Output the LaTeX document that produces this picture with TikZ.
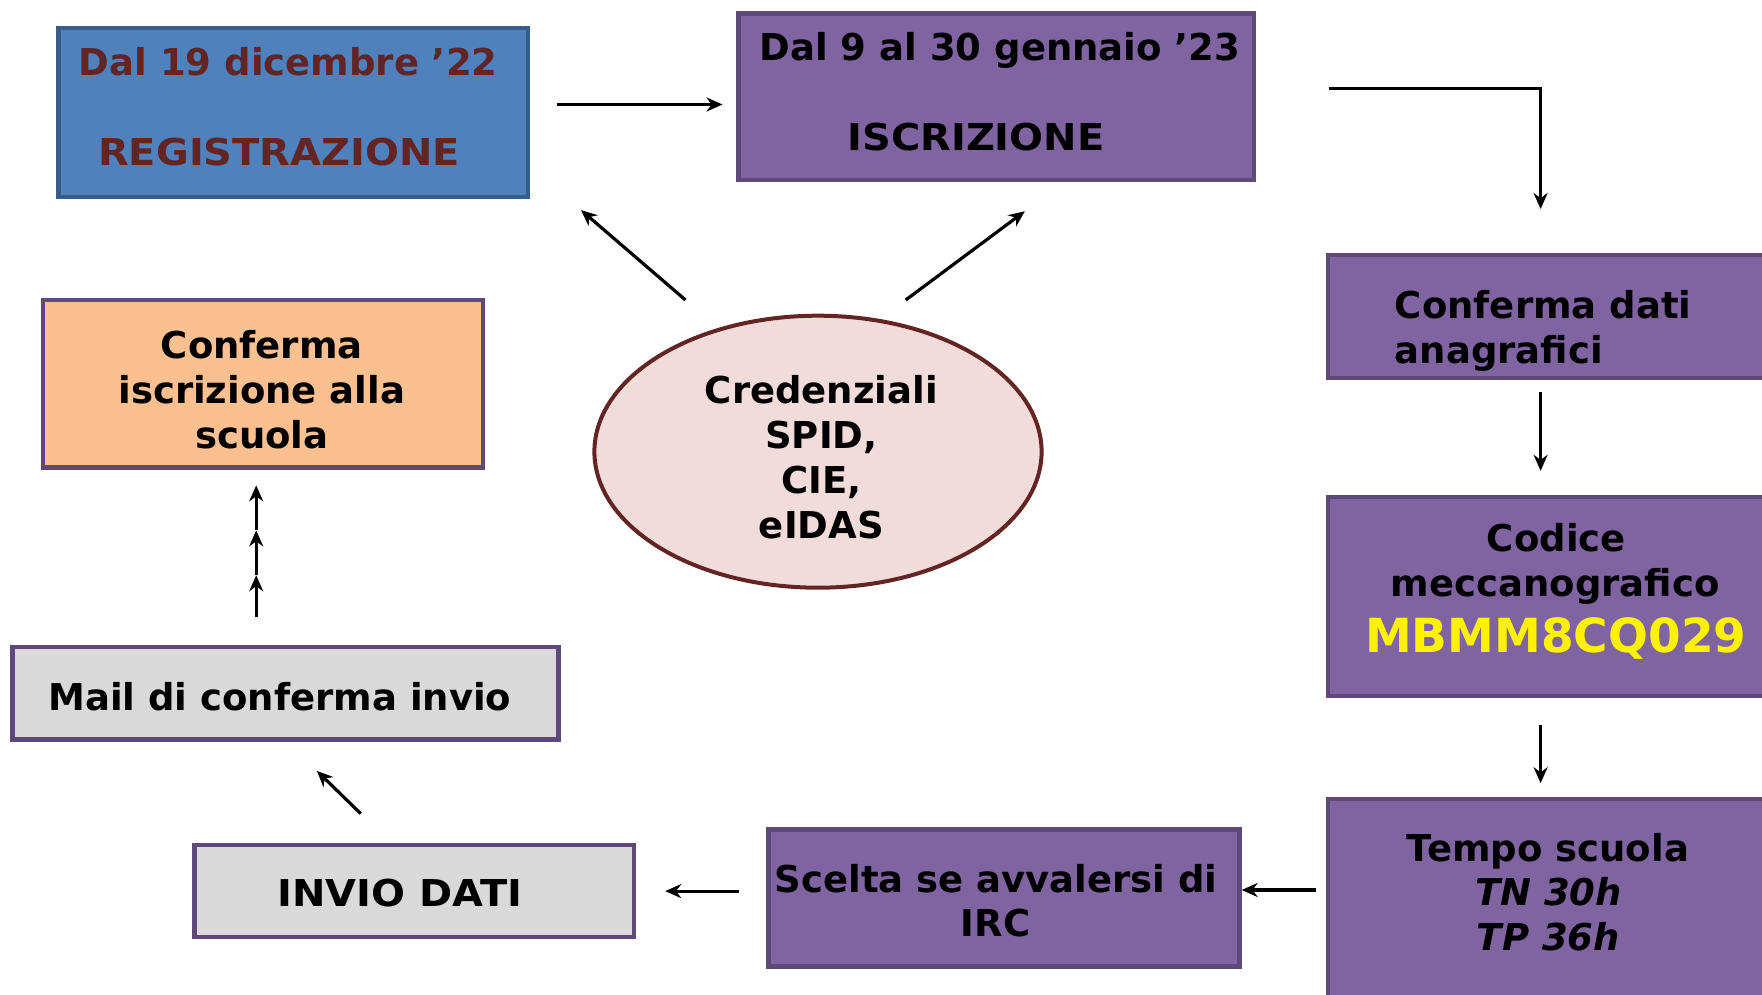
\documentclass[tikz,border=0pt]{standalone}
\usepackage{fontspec}
\setmainfont{DejaVu Sans}
\newfontfamily\widefont[FakeStretch=1.08]{DejaVu Sans}
\usetikzlibrary{arrows.meta,shapes.geometric}
\definecolor{regfill}{HTML}{4F81BD}
\definecolor{regborder}{HTML}{385D8A}
\definecolor{regtext}{HTML}{632523}
\definecolor{purfill}{HTML}{8064A2}
\definecolor{purborder}{HTML}{5F497A}
\definecolor{grayfill}{HTML}{D9D9D9}
\definecolor{orfill}{HTML}{FAC090}
\definecolor{ellfill}{HTML}{F2DCDB}
\definecolor{ellborder}{HTML}{632523}
\tikzset{
  box/.style={draw, rectangle, line width=2.2pt, inner sep=0pt},
  regbox/.style={box, fill=regfill, draw=regborder},
  purbox/.style={box, fill=purfill, draw=purborder},
  graybox/.style={box, fill=grayfill, draw=purborder},
  orbox/.style={box, fill=orfill, draw=purborder},
  txt/.style={anchor=base, inner sep=0pt, font=\fontsize{18.5pt}{22.5pt}\selectfont\bfseries},
  captxt/.style={anchor=base, inner sep=0pt, font=\widefont\fontsize{18.5pt}{22.5pt}\selectfont\bfseries},
  ittxt/.style={txt, font=\fontsize{18.5pt}{22.5pt}\selectfont\bfseries\itshape},
  arr/.style={line width=1.6pt, -{Stealth[length=8pt,width=7pt]}}
}
\begin{document}
\begin{tikzpicture}[x=0.5pt,y=-0.5pt]
\clip (0,0) rectangle (1762,995);
\fill[white] (0,0) rectangle (1762,995);
% boxes
\node[regbox, minimum width=234.9pt, minimum height=84.3pt] (reg) at (293.3,112.4) {};
\node[purbox, minimum width=257.9pt, minimum height=83.2pt] (iscr) at (996.2,96.6) {};
\node[purbox, minimum width=220pt, minimum height=61.3pt] (dati) at (1548,316.4) {};
\node[purbox, minimum width=220pt, minimum height=99.5pt] (cod) at (1548,596.2) {};
\node[purbox, minimum width=220pt, minimum height=110pt] (tempo) at (1548,909) {};
\node[purbox, minimum width=235.4pt, minimum height=68.6pt] (scelta) at (1004,897.9) {};
\node[graybox, minimum width=219.7pt, minimum height=46.1pt] (invio) at (414.1,891.1) {};
\node[graybox, minimum width=273pt, minimum height=46.1pt] (mail) at (285.4,693.3) {};
\node[orbox, minimum width=220.2pt, minimum height=83.8pt] (confisc) at (263,383.8) {};
\node[ellipse, draw=ellborder, fill=ellfill, line width=2pt, minimum width=223.6pt, minimum height=136pt, inner sep=0pt] (cred) at (818,451.7) {};
% texts
\node[txt, text=regtext] (r1) at (288.2,75.3) {Dal 19 dicembre ’22};
\node[captxt, text=regtext] (r2) at (279.2,165.2) {REGISTRAZIONE};
\node[txt] (i1) at (1000,60.7) {Dal 9 al 30 gennaio ’23};
\node[captxt] (i2) at (976,150.6) {ISCRIZIONE};
\node[txt, anchor=base west] (d1) at (1394.5,318) {Conferma dati};
\node[txt, anchor=base west] (d2) at (1394.5,363) {anagrafici};
\node[txt] (c1) at (1556.3,551.7) {Codice};
\node[txt] (c2) at (1555.2,596.7) {meccanografico};
\node[txt, text=yellow, font=\fontsize{23.5pt}{28pt}\selectfont\bfseries] (c3) at (1555.8,652) {MBMM8CQ029};
\node[txt] (t1) at (1547.9,861.9) {Tempo scuola};
\node[ittxt] (t2) at (1548.5,905.7) {TN 30h};
\node[ittxt] (t3) at (1548.5,950.7) {TP 36h};
\node[txt] (s1) at (996.2,892.2) {Scelta se avvalersi di};
\node[txt] (s2) at (995.6,936.1) {IRC};
\node[captxt] (v1) at (400,906.8) {INVIO DATI};
\node[txt] (m1) at (279.8,710.2) {Mail di conferma invio};
\node[txt] (k1) at (261.8,358.5) {Conferma};
\node[txt] (k2) at (261.8,403.5) {iscrizione alla};
\node[txt] (k3) at (261.8,448.4) {scuola};
\node[txt] (e1) at (821.4,403.5) {Credenziali};
\node[txt] (e2) at (821.4,448.4) {SPID,};
\node[txt] (e3) at (821.4,493.3) {CIE,};
\node[txt] (e4) at (821.4,538.3) {eIDAS};
% connector end points
\coordinate (a1s) at (557.4,104.5); \coordinate (a1e) at (722.5,104.5);
\coordinate (a2s) at (1329.3,88.8); \coordinate (a2m) at (1540.6,88.8); \coordinate (a2e) at (1540.6,209);
\coordinate (a3s) at (1540.6,392.2); \coordinate (a3e) at (1540.6,470.8);
\coordinate (a4s) at (1540.6,724.8); \coordinate (a4e) at (1540.6,783.2);
\coordinate (a5s) at (1315.8,890); \coordinate (a5e) at (1241.7,890);
\coordinate (a6s) at (739.4,891.1); \coordinate (a6e) at (665.2,891.1);
\coordinate (a7s) at (360.7,813.6); \coordinate (a7e) at (316.9,770.9);
\coordinate (a8s) at (256.2,616.9); \coordinate (a8m1) at (256.2,575.3); \coordinate (a8m2) at (256.2,530.4); \coordinate (a8e) at (256.2,485.4);
\coordinate (a9s) at (685.5,300); \coordinate (a9e) at (581,210.1);
\coordinate (a10s) at (905.7,300); \coordinate (a10e) at (1024.8,211.3);
% connectors
\draw[arr] (a1s) -- (a1e);
\draw[arr] (a2s) -- (a2m) -- (a2e);
\draw[arr] (a3s) -- (a3e);
\draw[arr] (a4s) -- (a4e);
\draw[arr] (a5s) -- (a5e);
\draw[arr] (a6s) -- (a6e);
\draw[arr] (a7s) -- (a7e);
\draw[arr] (a8s) -- (a8m1);
\draw[arr] (a8m1) -- (a8m2);
\draw[arr] (a8m2) -- (a8e);
\draw[arr] (a9s) -- (a9e);
\draw[arr] (a10s) -- (a10e);
\end{tikzpicture}
\end{document}
